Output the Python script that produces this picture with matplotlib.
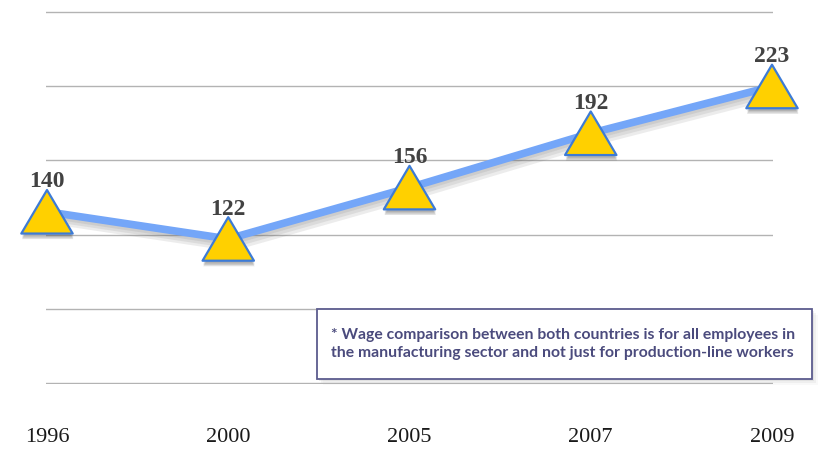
import matplotlib
matplotlib.use("Agg")
import matplotlib.pyplot as plt
import matplotlib.patheffects as pe
from matplotlib.path import Path
import numpy as np

years = ["1996", "2000", "2005", "2007", "2009"]
values = [140, 122, 156, 192, 223]
grid_values = [26.6, 75.7, 124.9, 174.0, 223.2, 272.3]
note = ("* Wage comparison between both countries is for all employees in\n"
        "the manufacturing sector and not just for production-line workers")

W, H = 818, 453
fig = plt.figure(figsize=(W / 100, H / 100), dpi=100)
fig.patch.set_facecolor("white")
ax = fig.add_axes([46 / W, (H - 384) / H, 727 / W, 373 / H])
ax.set_facecolor("white")

x = np.arange(len(years))
ax.set_xlim(-1 / 181.25, len(years) - 1 + 1 / 181.25)
ax.set_ylim(grid_values[0] - 0.7, grid_values[-1] + 0.7)

for g in grid_values:
    ax.axhline(g, color="#b3b3b3", lw=1.0, zorder=1)

for s in ax.spines.values():
    s.set_visible(False)
ax.set_yticks([])
ax.set_xticks(x)
ax.set_xticklabels(years, family="Liberation Serif", fontsize=16, color="#1a1a1a")
ax.tick_params(axis="x", length=0, pad=32)

# line with soft shadow
shadow_fx = [pe.SimpleLineShadow(offset=(o, -o - 1), shadow_color="#666666", alpha=0.12,
                                 linewidth=5.5 + 2 * o) for o in (0.5, 1.5, 2.5)]
ax.plot(x, values, color="#74a6f8", lw=5.5, solid_capstyle="butt", zorder=3,
        clip_on=False, path_effects=shadow_fx + [pe.Normal()])

tri = Path([(-1.18, -1), (1.18, -1), (0, 1), (-1.18, -1)],
           [Path.MOVETO, Path.LINETO, Path.LINETO, Path.CLOSEPOLY])
mk_fx = [pe.SimplePatchShadow(offset=(0.5, -o), shadow_rgbFace="#555555", alpha=0.18)
         for o in (2, 3, 4)]
ax.plot(x, values, linestyle="none", marker=tri, markersize=37, markerfacecolor="#ffd000",
        markeredgecolor="#3d7bd6", markeredgewidth=1.6, zorder=4, clip_on=False,
        path_effects=mk_fx + [pe.Normal()])

for xi, v in zip(x, values):
    ax.annotate(str(v), (xi, v), xytext=(0, 21.5), textcoords="offset points",
                ha="center", va="center", fontsize=17, fontweight="bold",
                family="Liberation Serif", color="#424242", zorder=5, annotation_clip=False)

# note box
box_l, box_t, box_r, box_b = 317, 309, 812, 379
for i, a in enumerate((0.25, 0.15, 0.08)):
    d = 2 + 2 * i
    sh = plt.Rectangle(((box_l + d) / W, (H - box_b - d) / H), (box_r - box_l) / W,
                       (box_b - box_t) / H, transform=fig.transFigure,
                       facecolor="#bbbbbb", edgecolor="none", zorder=5, alpha=a)
    fig.add_artist(sh)
rect = plt.Rectangle((box_l / W, (H - box_b) / H), (box_r - box_l) / W, (box_b - box_t) / H,
                     transform=fig.transFigure, facecolor="white", edgecolor="#5c5c8e",
                     lw=1.3, zorder=6)
fig.add_artist(rect)
fig.text(331 / W, (H - 344) / H, note, ha="left", va="center", fontsize=11.3,
         fontweight="bold", family="Lato", color="#4b4b7d", linespacing=1.45, zorder=7)

fig.savefig("out.png", dpi=100, facecolor="white")
